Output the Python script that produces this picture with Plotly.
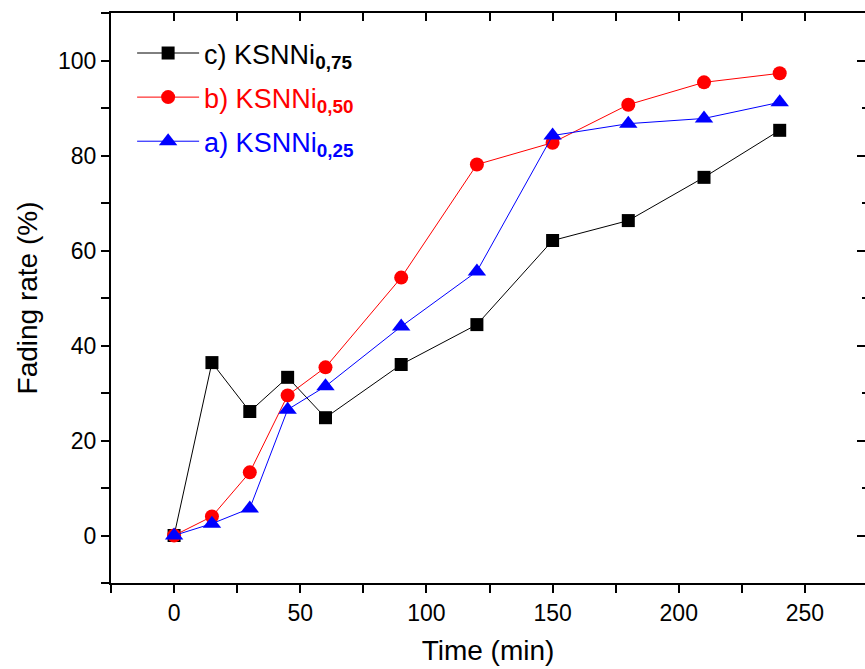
import plotly.graph_objects as go

time_min = [0, 15, 30, 45, 60, 90, 120, 150, 180, 210, 240]
ksnni_075 = [0, 36.4, 26.1, 33.3, 24.8, 36.0, 44.4, 62.1, 66.3, 75.4, 85.3]
ksnni_050 = [0, 4.0, 13.3, 29.5, 35.4, 54.3, 78.1, 82.7, 90.7, 95.4, 97.3]
ksnni_025 = [0, 2.5, 5.7, 26.5, 31.4, 44.0, 55.6, 84.2, 86.7, 87.8, 91.2]

FONT = "Liberation Sans, Arial, sans-serif"

fig = go.Figure()
fig.add_trace(go.Scatter(
    x=time_min, y=ksnni_075, mode="lines+markers", legendgroup="c",
    name="<span style='color:black'>c) KSNNi<sub><b>0,75</b></sub></span>",
    line=dict(color="black", width=1),
    marker=dict(symbol="square", size=13, color="black")))
fig.add_trace(go.Scatter(
    x=time_min, y=ksnni_050, mode="lines+markers", legendgroup="b",
    name="<span style='color:red'>b) KSNNi<sub><b>0,50</b></sub></span>",
    line=dict(color="red", width=1),
    marker=dict(symbol="circle", size=14, color="red")))
fig.add_trace(go.Scatter(
    x=time_min, y=ksnni_025, mode="lines+markers", legendgroup="a",
    name="<span style='color:blue'>a) KSNNi<sub><b>0,25</b></sub></span>",
    line=dict(color="blue", width=1),
    marker=dict(symbol="triangle-up", size=16, color="blue")))
# dummy trace to anchor the mirrored top/right axes
fig.add_trace(go.Scatter(x=[None], y=[None], xaxis="x2", yaxis="y2",
                         showlegend=False, hoverinfo="skip"))

xr = [-25, 273.8]
yr = [-10, 110]

fig.update_layout(
    width=865, height=669,
    margin=dict(l=111, r=0, t=13, b=86),
    paper_bgcolor="white", plot_bgcolor="white",
    font=dict(family=FONT, color="black", size=23),
    showlegend=True,
    legend=dict(x=0.028, y=0.972, xanchor="left", yanchor="top",
                bgcolor="rgba(0,0,0,0)", font=dict(family=FONT, size=27),
                tracegroupgap=6, itemwidth=62),
    xaxis=dict(range=xr, showline=True, linecolor="black", linewidth=2,
               ticks="outside", ticklen=8, tickwidth=2, tickcolor="black",
               dtick=50, tick0=0, showgrid=False, zeroline=False,
               minor=dict(dtick=25, tick0=0, ticks="outside", ticklen=8,
                          tickwidth=2, tickcolor="black", showgrid=False),
               title=dict(text="Time (min)", font=dict(size=28), standoff=16),
               tickfont=dict(size=23)),
    yaxis=dict(range=yr, showline=True, linecolor="black", linewidth=2,
               ticks="outside", ticklen=8, tickwidth=2, tickcolor="black",
               dtick=20, tick0=0, showgrid=False, zeroline=False,
               minor=dict(dtick=10, tick0=0, ticks="outside", ticklen=8,
                          tickwidth=2, tickcolor="black", showgrid=False),
               title=dict(text="Fading rate (%)", font=dict(size=28), standoff=12),
               tickfont=dict(size=23)),
    xaxis2=dict(range=xr, overlaying="x", side="top", anchor="y2",
                showline=True, linecolor="black", linewidth=2,
                ticks="inside", ticklen=8, tickwidth=2, tickcolor="black",
                dtick=25, tick0=0, showticklabels=False, showgrid=False,
                zeroline=False),
    yaxis2=dict(range=yr, overlaying="y", side="right", anchor="x2",
                showline=False,
                ticks="inside", ticklen=8, tickwidth=2, tickcolor="black",
                dtick=20, tick0=0, showticklabels=False, showgrid=False,
                zeroline=False,
                minor=dict(dtick=10, tick0=0, ticks="inside", ticklen=3,
                           tickwidth=2, tickcolor="black", showgrid=False)),
)

fig.write_html("out.html")
